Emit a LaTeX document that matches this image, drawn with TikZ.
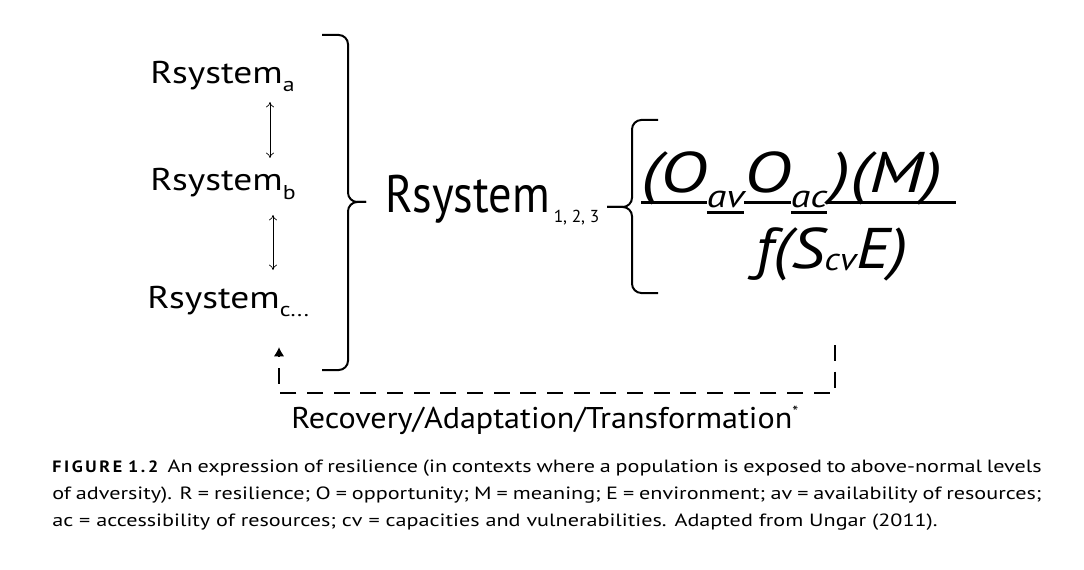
\documentclass[tikz,border=0pt]{standalone}
\usepackage{fontspec}
\setmainfont{PT Sans}
\newfontfamily\sysfont[FakeStretch=1.19]{PT Sans}
\newfontfamily\allfont[FakeStretch=0.88]{PT Sans}
\newfontfamily\mathfont[FakeStretch=1.25]{PT Sans}
\newfontfamily\denfont[FakeStretch=1.15]{PT Sans}
\newfontfamily\labfont[FakeStretch=1.07]{PT Sans}
\newfontfamily\capfont[FakeStretch=1.25]{PT Sans}
\newfontfamily\capbold[FakeStretch=1.1,LetterSpace=16]{PT Sans}
\usetikzlibrary{arrows.meta,calc}

\newsavebox\segbox
% fraction bar under a piece of the numerator
\newcommand\barseg[2][0pt]{\sbox\segbox{#2\hspace{#1}}\rlap{\rule[-8.2pt]{\wd\segbox}{2pt}}\usebox\segbox}
% lowered, underlined subscript
\newcommand\subseg[1]{\sbox\segbox{\fontsize{24}{24}\selectfont #1}\raisebox{-11.2pt}{\rlap{\rule[-4.6pt]{\wd\segbox}{2pt}}\usebox\segbox}}

\begin{document}
\begin{tikzpicture}[x=0.75pt,y=-0.75pt,
  txt/.style={inner sep=0pt, anchor=base west},
  updown/.style={{To[length=4pt,width=6pt]}-{To[length=4pt,width=6pt]}, line width=0.5pt},
  brc/.style={line width=1.5pt, rounded corners=7pt},
  loopline/.style={line width=1.8pt, dash pattern=on 12pt off 8pt, -{Latex[length=7pt,width=8pt]}}]
\useasboundingbox (0,0) rectangle (1084,570);

\node[txt] (r1) at (150,84) {\sysfont\fontsize{23.6}{24}\selectfont Rsystem\raisebox{-6pt}{\fontsize{15}{15}\selectfont a}};
\node[txt] (r2) at (150,191) {\sysfont\fontsize{23.6}{24}\selectfont Rsystem\raisebox{-6pt}{\fontsize{15}{15}\selectfont b}};
\node[txt] (r3) at (147,308) {\sysfont\fontsize{23.6}{24}\selectfont Rsystem\raisebox{-6pt}{\fontsize{15}{15}\selectfont c...}};

\draw[updown] ($(r1.base west)+(120,18)$) -- ($(r2.base west)+(120,-33)$);
\draw[updown] ($(r2.base west)+(123,24)$) -- ($(r3.base west)+(126,-38)$);

\node[txt] (rall) at (385,213) {\allfont\fontsize{39.6}{40}\selectfont Rsystem\raisebox{-7pt}{\rmfamily\fontsize{13}{13}\selectfont\hspace{3pt}1, 2, 3}};

% braces
\draw[brc] (322,35) -- (348,35) -- (348,202) -- (366,202);
\draw[brc] (322,370) -- (348,370) -- (348,202) -- (366,202);
\draw[brc] (658,120) -- (632,120) -- (632,207) -- (607,207);
\draw[brc] (658,293) -- (632,293) -- (632,207) -- (607,207);

\node[txt] (num) at (641,193) {\mathfont\fontsize{43}{43}\selectfont\itshape
  \barseg{(O}\subseg{av}\barseg{O}\subseg{ac}\barseg[10pt]{\hspace{3pt})(M)}};
\node[txt] (den) at (755,268) {\denfont\fontsize{43}{43}\selectfont\itshape
  f(S\raisebox{-2pt}{\fontsize{24}{24}\selectfont cv}E)};

\coordinate (loopstart) at (835,345);
\coordinate (loopcorner) at (835,393);
\coordinate (loopend) at (279,347);
\draw[loopline] (loopstart) -- (loopcorner) -| (loopend);

\node[txt] (rat) at (291,428) {\labfont\fontsize{22.5}{24}\selectfont Recovery/Adaptation/Transformation\raisebox{8pt}{\fontsize{12}{12}\selectfont *}};

\node[inner sep=0pt, anchor=north west, text width=742pt, align=justify,
  font={\capfont\fontsize{13.3}{20.25}\selectfont}] (cap) at (52,460)
  {{\capbold\bfseries\fontsize{12.3}{12.3}\selectfont FIGURE 1.2}\hspace{7pt}An expression of resilience (in contexts where a population is exposed to above-normal levels\linebreak
  of adversity). R = resilience; O = opportunity; M = meaning; E = environment; av = availability of resources;\linebreak
  ac = accessibility of resources; cv = capacities and vulnerabilities. Adapted from Ungar (2011).};
\end{tikzpicture}
\end{document}
